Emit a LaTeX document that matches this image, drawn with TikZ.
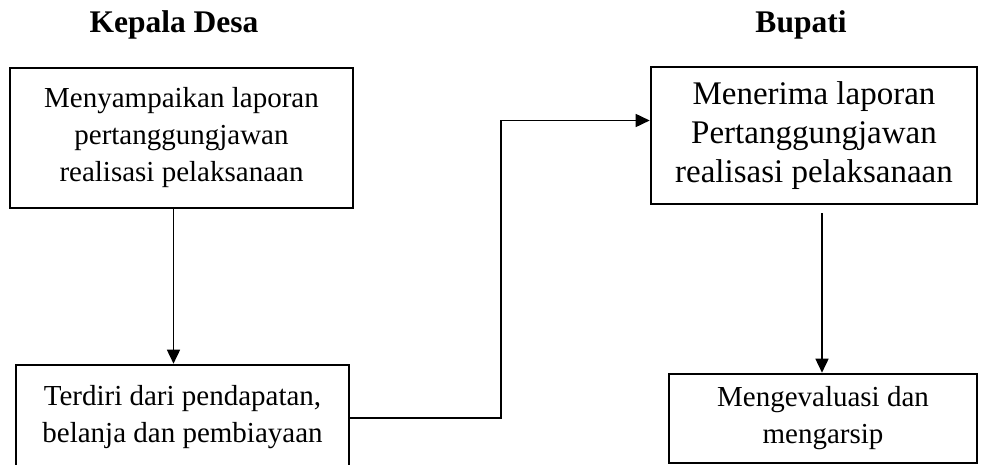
\documentclass[tikz,border=0pt]{standalone}
\usepackage{fontspec}
\setmainfont{Liberation Serif}
\usetikzlibrary{arrows.meta}
\begin{document}
\begin{tikzpicture}[x=1pt,y=-1pt,
  box/.style={draw,line width=2.6pt,align=center,inner sep=0pt,
              font=\fontsize{29}{37}\selectfont},
  bigbox/.style={box,font=\fontsize{33}{39}\selectfont},
  title/.style={font=\fontsize{31.5}{36}\selectfont\bfseries,anchor=base},
  conn/.style={line width=1.6pt,-{Triangle[length=14pt,width=13pt]}}]
\useasboundingbox (0,0) rectangle (982,465);
\clip (0,0) rectangle (982,465);

% column headings
\node[title] (tKD) at (174,33) {Kepala Desa};
\node[title] (tBP) at (801,33) {Bupati};

% Kepala Desa column
\node[box,minimum width=343pt,minimum height=140pt] (A) at (181.5,138)
  {Menyampaikan laporan\\pertanggungjawan\\realisasi pelaksanaan};
\node[box,minimum width=333pt,minimum height=104pt] (B) at (182.5,417)
  {Terdiri dari pendapatan,\\belanja dan pembiayaan};

% Bupati column
\node[bigbox,minimum width=326pt,minimum height=137pt] (C) at (814,135.5)
  {Menerima laporan\\Pertanggungjawan\\realisasi pelaksanaan};
\node[box,minimum width=308pt,minimum height=89pt] (D) at (823,418.5)
  {Mengevaluasi dan\\mengarsip};

% connectors
\draw[conn] ([xshift=-8pt]A.south) -- ([xshift=-8pt]A.south |- B.north);
\coordinate (turn) at (501,418);
\draw[conn] (B.east |- turn) -- (turn) |- ([yshift=15pt]C.west);
\draw[conn] ([xshift=-1pt,yshift=-8pt]D.north |- C.south) -- ([xshift=-1pt]D.north);
\end{tikzpicture}
\end{document}
